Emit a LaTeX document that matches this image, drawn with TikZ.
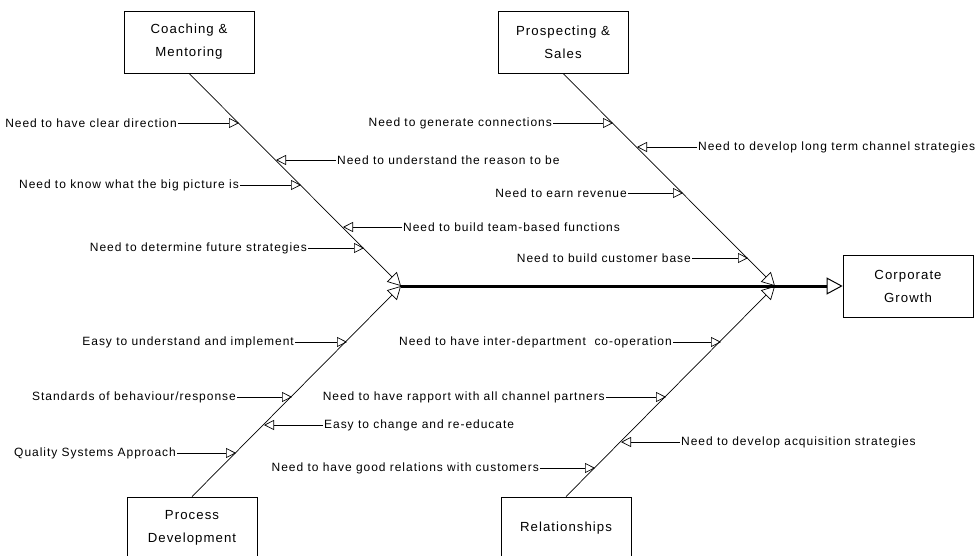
\documentclass[tikz,border=0pt]{standalone}
\usepackage{fontspec}
\newfontfamily\diafont[LetterSpace=8]{Liberation Sans}
\usepackage{tikz}
\usetikzlibrary{arrows.meta}

\begin{document}
\begin{tikzpicture}[
  x=1pt, y=-1pt,
  catbox/.style={rectangle, draw, line width=0.8pt, minimum width=130pt, minimum height=62pt, align=center, font=\diafont\fontsize{13.2}{23}\selectfont},
  lcause/.style={anchor=east, inner sep=1pt, font=\diafont\fontsize{12}{14}\selectfont},
  rcause/.style={anchor=west, inner sep=1pt, font=\diafont\fontsize{12}{14}\selectfont},
  cause/.style={draw, line width=0.7pt, -{Triangle[open, length=10pt, width=10pt]}},
  bone/.style={draw, line width=0.7pt, -{Triangle[open, length=13pt, width=14pt]}},
  spine/.style={draw, line width=3pt, -{Triangle[open, length=16pt, width=17pt, line width=1pt]}},
]
\useasboundingbox (0,0) rectangle (975,555);
\clip (0,0) rectangle (975,555);
\fill[white] (0,0) rectangle (975,555);

% category boxes and effect
\node[catbox] (cm) at (189,42) {Coaching \&\\Mentoring};
\node[catbox] (ps) at (563,42) {Prospecting \&\\Sales};
\node[catbox] (pd) at (192,528) {Process\\Development};
\node[catbox] (rl) at (566,528) {Relationships};
\node[catbox] (cg) at (908,286) {Corporate\\Growth};

\coordinate (jl) at (401,286);
\coordinate (jr) at (775,286);

\draw[spine] (jl) -- (cg.west);
\draw[bone] (cm.south) -- (jl);
\draw[bone] (pd.north) -- (jl);
\draw[bone] (ps.south) -- (jr);
\draw[bone] (rl.north) -- (jr);

% Coaching & Mentoring
\node[lcause] (cm1) at (178,123) {Need to have clear direction};
\node[rcause] (cm2) at (336,160) {Need to understand the reason to be};
\node[lcause] (cm3) at (240,185) {Need to know what the big picture is};
\node[rcause] (cm4) at (402,227) {Need to build team-based functions};
\node[lcause] (cm5) at (308,248) {Need to determine future strategies};
\coordinate (cm1t) at (239,123);
\coordinate (cm2t) at (276,160);
\coordinate (cm3t) at (301,185);
\coordinate (cm4t) at (343,227);
\coordinate (cm5t) at (364,248);
\draw[cause] (cm1.east) -- (cm1t);
\draw[cause] (cm2.west) -- (cm2t);
\draw[cause] (cm3.east) -- (cm3t);
\draw[cause] (cm4.west) -- (cm4t);
\draw[cause] (cm5.east) -- (cm5t);

% Prospecting & Sales
\node[lcause] (ps1) at (553,123) {Need to generate connections};
\node[rcause] (ps2) at (697,147) {Need to develop long term channel strategies};
\node[lcause] (ps3) at (628,193) {Need to earn revenue};
\node[lcause] (ps4) at (692,258) {Need to build customer base};
\coordinate (ps1t) at (613,123);
\coordinate (ps2t) at (637,147);
\coordinate (ps3t) at (683,193);
\coordinate (ps4t) at (748,258);
\draw[cause] (ps1.east) -- (ps1t);
\draw[cause] (ps2.west) -- (ps2t);
\draw[cause] (ps3.east) -- (ps3t);
\draw[cause] (ps4.east) -- (ps4t);

% Process Development
\node[lcause] (pd1) at (295,342) {Easy to understand and implement};
\node[lcause] (pd2) at (237,397) {Standards of behaviour/response};
\node[rcause] (pd3) at (323,425) {Easy to change and re-educate};
\node[lcause] (pd4) at (177,453) {Quality Systems Approach};
\coordinate (pd1t) at (347,342);
\coordinate (pd2t) at (292,397);
\coordinate (pd3t) at (264,425);
\coordinate (pd4t) at (236,453);
\draw[cause] (pd1.east) -- (pd1t);
\draw[cause] (pd2.east) -- (pd2t);
\draw[cause] (pd3.west) -- (pd3t);
\draw[cause] (pd4.east) -- (pd4t);

% Relationships
\node[lcause] (rl1) at (673,342) {Need to have inter-department~ co-operation};
\node[lcause] (rl2) at (606,397) {Need to have rapport with all channel partners};
\node[rcause] (rl3) at (680,442) {Need to develop acquisition strategies};
\node[lcause] (rl4) at (540,468) {Need to have good relations with customers};
\coordinate (rl1t) at (721,342);
\coordinate (rl2t) at (666,397);
\coordinate (rl3t) at (621,442);
\coordinate (rl4t) at (595,468);
\draw[cause] (rl1.east) -- (rl1t);
\draw[cause] (rl2.east) -- (rl2t);
\draw[cause] (rl3.west) -- (rl3t);
\draw[cause] (rl4.east) -- (rl4t);
\end{tikzpicture}
\end{document}
